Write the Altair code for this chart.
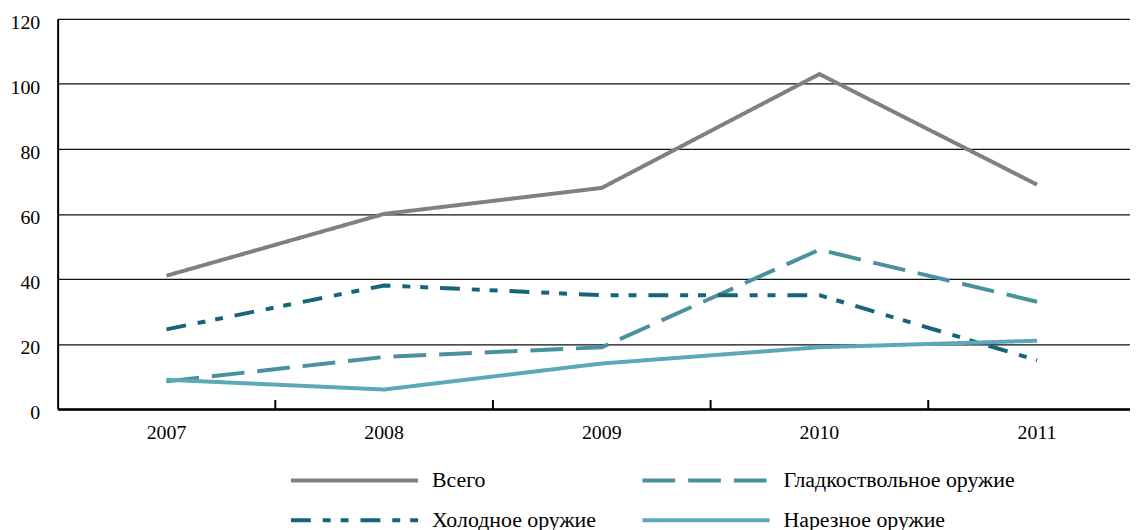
import altair as alt
import pandas as pd

years = ["2007", "2008", "2009", "2010", "2011"]
series = ["Всего", "Гладкоствольное оружие", "Холодное оружие", "Нарезное оружие"]
total = [41, 60, 68, 103, 69]
smooth = [8.5, 16, 19, 49, 33]
cold = [24.5, 38, 35, 35, 15]
rifled = [9, 6, 14, 19, 21]

colors = ["#808080", "#4A919E", "#17647A", "#5BA8B9"]
dashes = [[1, 0], [33, 13], [20, 12, 8, 10, 8, 12], [1, 0]]

rows = []
for name, vals in zip(series, [total, smooth, cold, rifled]):
    for y, v in zip(years, vals):
        rows.append({"year": y, "series": name, "value": v})
df = pd.DataFrame(rows)
tick_df = pd.DataFrame({"year": years[1:]})

W, H = 1096, 393
xscale = alt.Scale(type="band", domain=years, paddingInner=0, paddingOuter=0)

lines = alt.Chart(df).mark_line(strokeWidth=4, strokeCap="butt").encode(
    x=alt.X("year:O", scale=xscale, bandPosition=0.5, sort=years,
            axis=alt.Axis(title=None, ticks=False, domainColor="black", domainWidth=2.5,
                          labelFont="Liberation Serif", labelFontSize=20, labelColor="black",
                          labelPadding=24, labelAngle=0, labelAlign="center", grid=False)),
    y=alt.Y("value:Q", scale=alt.Scale(domain=[0, 120], nice=False),
            axis=alt.Axis(title=None, values=[0, 20, 40, 60, 80, 100, 120], ticks=False,
                          domainColor="black", domainWidth=2, grid=True, gridColor="#111",
                          gridWidth=1.3, labelFont="Liberation Serif", labelFontSize=20,
                          labelColor="black", labelPadding=18, labelOffset=4)),
    color=alt.Color("series:N", scale=alt.Scale(domain=series, range=colors), title=None),
    strokeDash=alt.StrokeDash("series:N", scale=alt.Scale(domain=series, range=dashes),
                              title=None),
    detail="series:N",
)

ticks = alt.Chart(tick_df).mark_rule(color="black", strokeWidth=2).encode(
    x=alt.X("year:O", scale=xscale, bandPosition=0),
    y=alt.value(H),
    y2=alt.value(H - 9),
)

chart = alt.layer(ticks, lines).properties(
    width=W, height=H,
    padding={"left": 50, "top": 9, "right": -16, "bottom": 124},
    autosize=alt.AutoSizeParams(type="none"),
).configure_view(stroke=None).configure_legend(
    orient="none", direction="horizontal", legendX=288, legendY=454, columns=2,
    symbolType="M-8,0H8", symbolSize=256, symbolStrokeWidth=4,
    labelFont="Liberation Serif", labelFontSize=22, labelColor="black",
    labelOffset=67, rowPadding=18, columnPadding=38, padding=0, labelLimit=400,
)

chart.save("out.html", embed_options={"renderer": "svg", "actions": False})
